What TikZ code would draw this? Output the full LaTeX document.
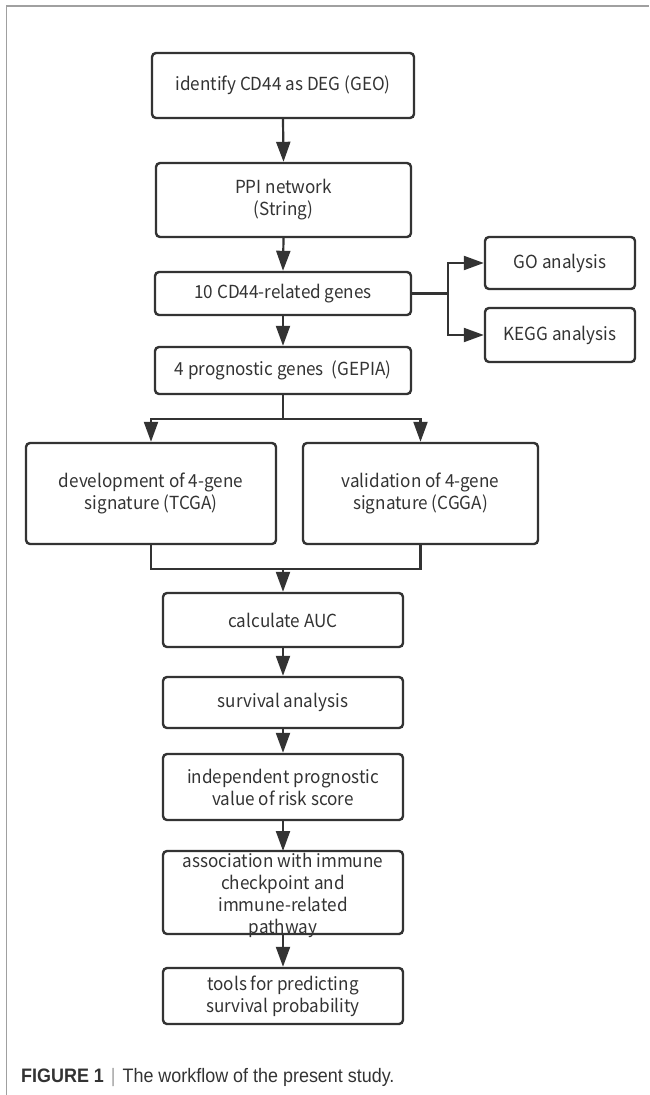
\documentclass[tikz,border=0pt]{standalone}
\usepackage{fontspec}
\usetikzlibrary{arrows.meta,positioning}
\newfontfamily\boxfont[FakeStretch=0.95]{Noto Sans CJK SC}
\newfontfamily\capfont[FakeStretch=0.92]{Liberation Sans}
\definecolor{ink}{HTML}{333333}
\definecolor{framec}{HTML}{A0A0A0}
\tikzset{
  boxtext/.style={font=\boxfont\fontsize{18}{22}\selectfont, text=ink},
  flowbox/.style={draw=ink, line width=2.4pt, rounded corners=4pt, align=center,
    inner sep=0pt, boxtext},
  link/.style={draw=ink, line width=2.2pt},
  arr/.style={link, -{Triangle[length=20pt,width=14pt]}},
}
\begin{document}
\begin{tikzpicture}[x=1pt,y=-1pt]
\useasboundingbox (0,0) rectangle (649,1095);
% frame
\draw[framec, line width=1.2pt] (6.5,1095) -- (6.5,6) -- (649,6);

\node[flowbox, minimum width=262pt, minimum height=65pt] (b1) at (283,85.5) {identify CD44 as DEG (GEO)};
\node[flowbox, minimum width=255pt, minimum height=74pt] (b2) at (283.5,200) {PPI network\\(String)};
\node[flowbox, minimum width=256pt, minimum height=43pt] (b3) at (283,293.5) {10 CD44-related genes};
\node[flowbox, minimum width=150pt, minimum height=52pt] (go) at (560,263) {GO analysis};
\node[flowbox, minimum width=150pt, minimum height=54pt] (kegg) at (560,335) {KEGG analysis};
\node[flowbox, minimum width=256pt, minimum height=47pt] (b4) at (283,370.5) {4 prognostic genes\ \ (GEPIA)};
\node[flowbox, minimum width=250pt, minimum height=101pt] (dev) at (151,493.5) {development of 4-gene\\signature (TCGA)};
\node[flowbox, minimum width=235pt, minimum height=101pt] (val) at (420.5,493.5) {validation of 4-gene\\signature (CGGA)};
\node[flowbox, minimum width=240pt, minimum height=54pt] (auc) at (283,620) {calculate AUC};
\node[flowbox, minimum width=240pt, minimum height=51pt] (surv) at (283,702.5) {survival analysis};
\node[flowbox, minimum width=240pt, minimum height=66pt] (ind) at (283,787) {independent prognostic\\value of risk score};
\draw[ink, line width=2.4pt, rounded corners=4pt] (163,851) rectangle (403,934);
\node[align=center, inner sep=0pt, boxtext] (assoc) at (283,895)
  {association with immune\\checkpoint and\\immune-related\\pathway};
\coordinate (assocT) at (283,851);
\coordinate (assocB) at (283,934);
\node[flowbox, minimum width=240pt, minimum height=56pt] (tools) at (283,996) {tools for predicting\\survival probability};

% connectors
\draw[arr] (b1.south) -- (b2.north);
\draw[arr] (b2.south) -- (b3.north);
\draw[arr] (b3.south) -- (b4.north);
\draw[link] (b3.east) -- ++(36,0) coordinate (j);
\draw[arr] (j) |- (go.west);
\draw[arr] (j) |- (kegg.west);
\coordinate (s) at (283,419);
\draw[link] (b4.south) -- (s);
\draw[arr] (s) -| (dev.north);
\draw[arr] (s) -| (val.north);
\coordinate (m) at (283,569);
\draw[link] (dev.south) |- (m) -| (val.south);
\draw[arr] (m) -- (auc.north);
\draw[arr] (auc.south) -- (surv.north);
\draw[arr] (surv.south) -- (ind.north);
\draw[arr] (ind.south) -- (assocT);
\draw[arr] (assocB) -- (tools.north);

% caption
\node[anchor=west, inner sep=0pt, font=\capfont\fontsize{19.5}{21}\selectfont, text=ink] (cap) at (21,1077)
  {\textbf{FIGURE 1}\hspace{7pt}{\color{framec}|}\hspace{7pt}The workflow of the present study.};
\end{tikzpicture}
\end{document}
